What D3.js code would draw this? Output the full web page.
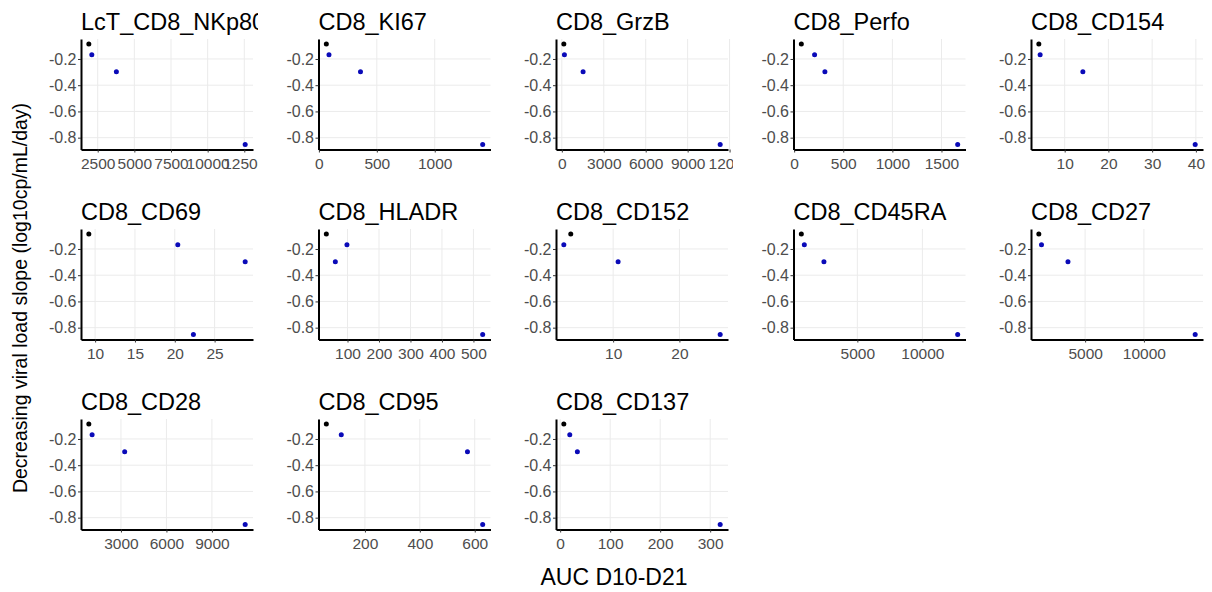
<!DOCTYPE html>
<html>
<head>
<meta charset="utf-8">
<script src="https://cdn.jsdelivr.net/npm/d3@7"></script>
<style>
  body { margin: 0; background: #fff; }
  svg { display: block; font-family: "Liberation Sans", Arial, sans-serif; }
</style>
</head>
<body>
<div id="chart"></div>
<script>
// panel names, in reading order
const markers = ["LcT_CD8_NKp80", "CD8_KI67", "CD8_GrzB", "CD8_Perfo", "CD8_CD154",
                 "CD8_CD69", "CD8_HLADR", "CD8_CD152", "CD8_CD45RA", "CD8_CD27",
                 "CD8_CD28", "CD8_CD95", "CD8_CD137"]

// one slope per subject, the same four subjects in every panel
const slopes = [-0.086, -0.168, -0.297, -0.852]
const subjectGroup = ["ref", "other", "other", "other"]

// AUC D10-D21 per subject (same order as slopes)
const aucNKp80 = [1894, 2098, 3774, 12561]
const aucKI67 = [64, 87, 359, 1414]
const aucGrzB = [143, 186, 1521, 11329]
const aucPerfo = [73, 208, 313, 1665]
const aucCD154 = [4.09, 4.39, 14.16, 39.84]
const aucCD69 = [9.21, 20.38, 28.84, 22.34]
const aucHLADR = [32.7, 98.2, 61.3, 529.4]
const aucCD152 = [3.61, 2.56, 10.75, 26.15]
const aucCD45RA = [692, 923, 2431, 12715]
const aucCD27 = [1062, 1290, 3541, 14360]
const aucCD28 = [880, 1097, 3246, 11196]
const aucCD95 = [59.3, 113.8, 573.5, 629]
const aucCD137 = [7.3, 19.2, 34.4, 320]

const aucByPanel = [aucNKp80, aucKI67, aucGrzB, aucPerfo, aucCD154,
                    aucCD69, aucHLADR, aucCD152, aucCD45RA, aucCD27,
                    aucCD28, aucCD95, aucCD137]

// x tick labels per panel
const xTicksByPanel = [
  [2500, 5000, 7500, 10000, 12500],
  [0, 500, 1000],
  [0, 3000, 6000, 9000, 12000],
  [0, 500, 1000, 1500],
  [10, 20, 30, 40],
  [10, 15, 20, 25],
  [100, 200, 300, 400, 500],
  [10, 20],
  [5000, 10000],
  [5000, 10000],
  [3000, 6000, 9000],
  [200, 400, 600],
  [0, 100, 200, 300]
]
const yTicks = [-0.8, -0.6, -0.4, -0.2]

const W = 1212, H = 592
const cellW = 237.5, cellLeft0 = 20.5
const padLeft = 60.5, panelW = 172, panelH = 110.5
const rowTop0 = 39, rowStep = 190

const color = d3.scaleOrdinal(["ref", "other"], ["#000000", "#0a0ab8"])

// ggplot style 5% expansion
function expand(ext) {
  const pad = (ext[1] - ext[0]) * 0.05
  return [ext[0] - pad, ext[1] + pad]
}

const svg = d3.select("#chart").append("svg")
  .attr("width", W)
  .attr("height", H)

const defs = svg.append("defs")

const yScale = d3.scaleLinear(expand(d3.extent(slopes)), [panelH, 0])

markers.forEach((name, i) => {
  const col = i % 5
  const row = Math.floor(i / 5)
  const cellX = cellLeft0 + col * cellW
  const top = rowTop0 + row * rowStep
  const left = cellX + padLeft

  defs.append("clipPath").attr("id", "clip" + i)
    .append("rect")
    .attr("x", cellX).attr("y", top - 39)
    .attr("width", cellW).attr("height", rowStep)

  const cell = svg.append("g").attr("clip-path", `url(#clip${i})`)
  const g = cell.append("g").attr("transform", `translate(${left},${top})`)

  const xs = aucByPanel[i]
  const xScale = d3.scaleLinear(expand(d3.extent(xs)), [0, panelW])

  // grid
  g.append("g").selectAll("line.gy")
    .data(yTicks).enter().append("line")
    .attr("x1", 0).attr("x2", panelW)
    .attr("y1", d => yScale(d)).attr("y2", d => yScale(d))
    .attr("stroke", "#ebebeb").attr("stroke-width", 1)

  g.append("g").selectAll("line.gx")
    .data(xTicksByPanel[i]).enter().append("line")
    .attr("x1", d => xScale(d)).attr("x2", d => xScale(d))
    .attr("y1", 0).attr("y2", panelH)
    .attr("stroke", "#ebebeb").attr("stroke-width", 1)

  // points
  g.append("g").selectAll("circle")
    .data(xs).enter().append("circle")
    .attr("cx", d => xScale(d))
    .attr("cy", (d, j) => yScale(slopes[j]))
    .attr("r", 2.5)
    .attr("fill", (d, j) => color(subjectGroup[j]))

  // axes
  const xAxis = d3.axisBottom(xScale)
    .tickValues(xTicksByPanel[i])
    .tickFormat(d => String(d))
    .tickSizeInner(3).tickSizeOuter(0).tickPadding(5)
  const yAxis = d3.axisLeft(yScale)
    .tickValues(yTicks)
    .tickFormat(d => d.toFixed(1))
    .tickSizeInner(3).tickSizeOuter(0).tickPadding(1.5)

  const gx = g.append("g").attr("transform", `translate(0,${panelH})`).call(xAxis)
  const gy = g.append("g").call(yAxis)

  for (const ax of [gx, gy]) {
    ax.select(".domain").attr("stroke", "#000").attr("stroke-width", 2)
    ax.selectAll(".tick line").attr("stroke", "#333")
    ax.selectAll(".tick text")
      .attr("fill", "#4d4d4d")
      .style("font-size", "15.5px")
      .style("font-family", "'Liberation Sans', Arial, sans-serif")
  }
  gy.selectAll(".tick text").style("font-size", "16px")

  // panel title
  cell.append("text")
    .attr("x", left)
    .attr("y", top - 9)
    .style("font-size", "23.5px")
    .attr("fill", "#000")
    .text(name)
})

// axis titles
svg.append("text")
  .attr("x", 614)
  .attr("y", 585)
  .attr("text-anchor", "middle")
  .style("font-size", "23px")
  .text("AUC D10-D21")

svg.append("text")
  .attr("transform", "translate(27,298) rotate(-90)")
  .attr("text-anchor", "middle")
  .style("font-size", "19.5px")
  .text("Decreasing viral load slope (log10cp/mL/day)")
</script>
</body>
</html>
